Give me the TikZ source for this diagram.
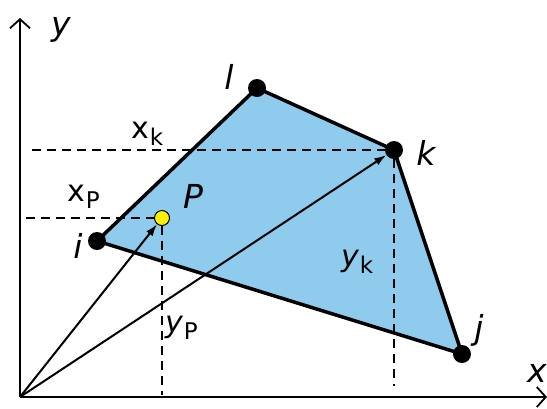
\documentclass[tikz,border=0pt]{standalone}
\usepackage{fontspec}
\setmainfont{DejaVu Sans}
\usetikzlibrary{arrows.meta}
\definecolor{quadfill}{RGB}{142,203,236}
\definecolor{pyellow}{RGB}{255,240,0}
\newcommand{\coordlab}[2]{{\fontsize{30}{30}\selectfont #1}\kern1pt\raisebox{-7pt}{\fontsize{23}{23}\selectfont #2}}
\begin{document}
\begin{tikzpicture}[x=1pt,y=-1pt,
  vdot/.style={circle,fill=black,inner sep=0pt,minimum size=18pt},
  pdot/.style={circle,fill=pyellow,draw=black,line width=1pt,inner sep=0pt,minimum size=15pt},
  axis/.style={line width=2.2pt,-{Straight Barb[length=9pt,width=20pt,line width=1.8pt]}},
  vec/.style={line width=2pt,-{Latex[length=12pt,width=8pt]}},
  guide/.style={line width=2pt,dash pattern=on 9pt off 6pt},
  edge/.style={line width=3.5pt,line join=round},
  vlabel/.style={font=\fontsize{33}{33}\selectfont\itshape,inner sep=0pt},
  clabel/.style={inner sep=0pt,anchor=base west}]
\useasboundingbox (0,0) rectangle (547,408);
% axes
\coordinate (O) at (20,397);
\coordinate (ytop) at (20,18);
\coordinate (xend) at (547,397);
\draw[axis] (O) -- (ytop);
\draw[axis] (O) -- (xend);
% vertices
\coordinate (ic) at (97,241);
\coordinate (lc) at (257,88);
\coordinate (kc) at (394,150);
\coordinate (jc) at (462,354);
\filldraw[fill=quadfill,edge] (ic) -- (lc) -- (kc) -- (jc) -- cycle;
\node[vdot] (i) at (ic) {};
\node[vdot] (l) at (lc) {};
\node[vdot] (k) at (kc) {};
\node[vdot] (j) at (jc) {};
\node[pdot] (P) at (162,218) {};
% guide lines
\coordinate (hk) at (32,150);
\coordinate (hp) at (26,218);
\coordinate (vp) at (162,395);
\coordinate (vk) at (394,386);
\draw[guide] (hk) -- (kc);
\draw[guide] (hp) -- (P.west);
\draw[guide] (P.south) -- (vp);
\draw[guide] (k.south) -- (vk);
% vectors
\draw[vec] (O) -- (P);
\draw[vec] (O) -- (k);
% labels
\node[vlabel] (ly) at (61,30) {y};
\node[vlabel] (lx) at (537,373) {x};
\node[vlabel] (li) at (78,246) {i};
\node[vlabel] (ll) at (229,77) {l};
\node[vlabel] (lk) at (426,153) {k};
\node[vlabel] (lj) at (479,330) {j};
\node[vlabel] (lP) at (193,196) {P};
\node[clabel] (lxk) at (131,138) {\coordlab{x}{k}};
\node[clabel] (lxp) at (67,201) {\coordlab{x}{P}};
\node[clabel] (lyk) at (341,266) {\coordlab{\itshape y}{k}};
\node[clabel] (lyp) at (165,332) {\coordlab{\itshape y}{P}};
\end{tikzpicture}
\end{document}
